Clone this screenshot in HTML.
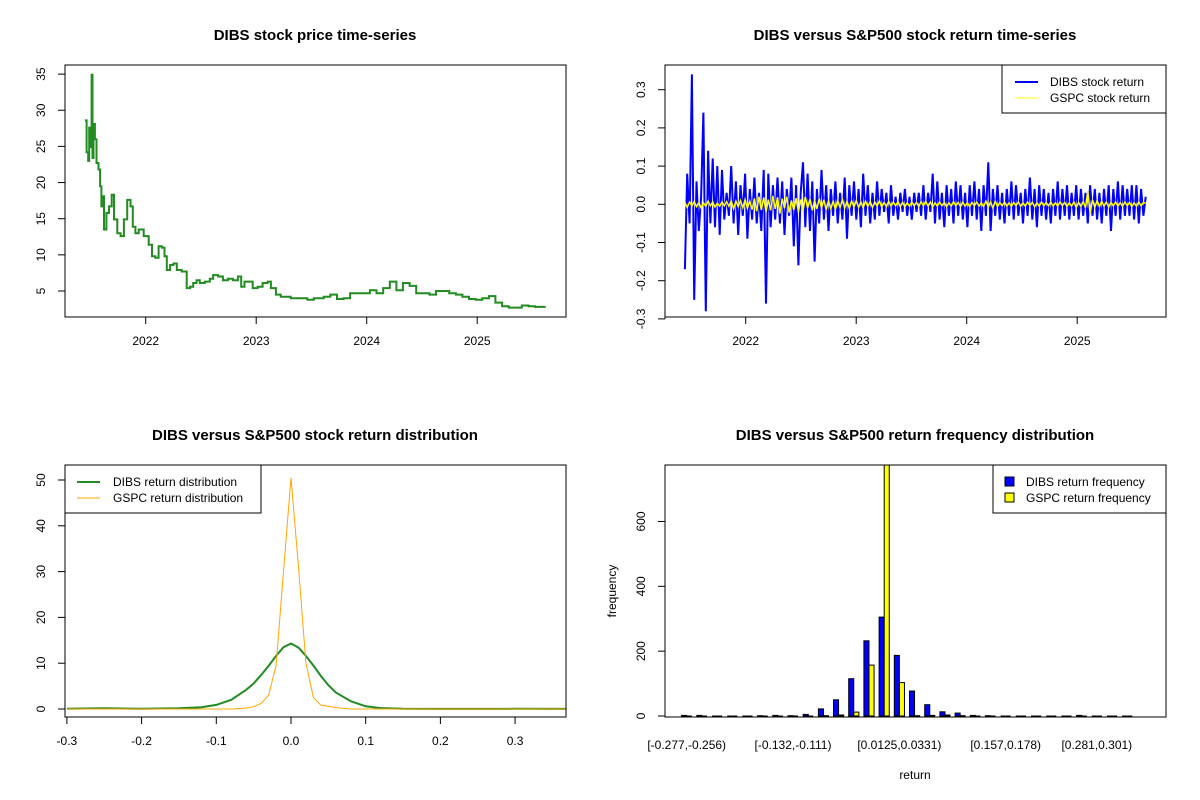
<!DOCTYPE html>
<html><head><meta charset="utf-8"><style>
body{margin:0;background:#fff}
svg{display:block;font-family:"Liberation Sans",sans-serif}
</style></head><body>
<svg id="chart" width="1200" height="800" viewBox="0 0 1200 800">
<rect width="1200" height="800" fill="#fff"/>
</svg>
<script>
// ---------- data ----------
const priceDates=[2021.450,2021.465,2021.480,2021.489,2021.501,2021.510,2021.519,2021.528,2021.540,2021.555,2021.573,2021.587,2021.599,2021.608,2021.623,2021.644,2021.668,2021.692,2021.713,2021.743,2021.773,2021.803,2021.833,2021.862,2021.883,2021.907,2021.937,2021.982,2022.027,2022.057,2022.087,2022.117,2022.146,2022.170,2022.191,2022.221,2022.251,2022.281,2022.326,2022.371,2022.401,2022.430,2022.460,2022.490,2022.535,2022.580,2022.610,2022.655,2022.699,2022.744,2022.789,2022.834,2022.864,2022.894,2022.939,2022.968,2023.013,2023.058,2023.103,2023.133,2023.178,2023.222,2023.312,2023.402,2023.462,2023.521,2023.611,2023.671,2023.731,2023.790,2023.850,2023.910,2023.970,2024.029,2024.089,2024.149,2024.209,2024.269,2024.328,2024.388,2024.448,2024.508,2024.568,2024.627,2024.687,2024.747,2024.807,2024.866,2024.926,2024.986,2025.046,2025.106,2025.165,2025.225,2025.285,2025.345,2025.404,2025.464,2025.524,2025.620];
const priceValues=[28.6,24.2,23.0,27.6,24.9,34.9,23.4,28.1,26.0,22.7,21.8,19.5,16.7,18.1,13.5,15.8,16.7,18.3,14.9,13.0,12.6,14.9,17.6,16.7,13.9,13.0,13.5,12.6,11.4,9.8,9.6,11.2,11.0,9.8,7.9,8.6,8.8,7.9,7.7,5.4,5.6,6.1,6.5,6.1,6.3,6.7,7.2,7.0,6.5,6.7,6.5,7.0,5.6,6.3,6.3,5.4,5.6,6.1,6.3,5.4,4.5,4.2,4.0,4.0,3.8,4.0,4.2,4.5,3.9,4.0,4.7,4.7,4.7,5.1,4.7,5.4,6.3,5.1,6.1,5.7,4.7,4.7,4.5,5.0,5.0,4.7,4.5,4.2,3.9,3.8,4.0,4.3,3.4,2.9,2.7,2.7,3.0,2.9,2.8,2.8];
const yearTicks=[2022,2023,2024,2025];
const priceTicks=[5,10,15,20,25,30,35];
const retStart=2021.45, retEnd=2025.62;
const dibsReturns=[-0.17,0.08,-0.05,0.34,-0.25,0.06,-0.07,0.02,0.24,-0.28,0.14,-0.05,0.12,-0.06,0.10,-0.08,0.09,-0.04,0.03,-0.03,
0.10,-0.05,0.06,-0.08,0.05,-0.03,0.08,-0.09,0.04,-0.04,0.07,-0.05,0.03,-0.07,0.09,-0.26,0.08,-0.06,0.05,-0.04,
0.07,-0.05,0.06,-0.08,0.04,-0.03,0.07,-0.11,0.05,-0.16,0.03,0.11,-0.06,0.08,-0.07,0.06,-0.15,0.04,-0.05,0.09,
-0.04,0.05,-0.07,0.04,-0.03,0.06,-0.05,0.03,-0.04,0.07,-0.09,0.05,-0.03,0.06,-0.04,0.04,-0.06,0.08,-0.03,0.05,
-0.05,0.03,-0.04,0.06,-0.03,0.04,-0.02,0.03,-0.05,0.05,-0.03,0.02,-0.04,0.03,-0.02,0.04,-0.03,0.02,-0.04,0.03,
-0.02,0.03,-0.03,0.05,-0.04,0.03,-0.02,0.08,-0.05,0.06,-0.04,0.03,-0.06,0.05,-0.03,0.04,-0.05,0.06,-0.03,0.05,
-0.04,0.03,-0.06,0.05,-0.03,0.06,-0.04,0.04,-0.07,0.05,-0.03,0.11,-0.07,0.04,-0.03,0.05,-0.04,0.03,-0.05,0.04,
-0.03,0.06,-0.04,0.05,-0.03,0.03,-0.05,0.04,-0.03,0.07,-0.04,0.04,-0.06,0.05,-0.03,0.04,-0.04,0.03,-0.05,0.04,
-0.03,0.06,-0.04,0.04,-0.03,0.05,-0.04,0.03,-0.03,0.05,-0.04,0.04,-0.03,0.03,-0.05,0.05,-0.03,0.04,-0.04,0.03,
-0.05,0.04,-0.03,0.05,-0.07,0.04,-0.03,0.06,-0.04,0.05,-0.03,0.04,-0.03,0.05,-0.04,0.05,-0.05,0.04,-0.03,0.02];
const gspcReturns=[0.005,-0.008,0.006,-0.004,0.007,-0.006,0.005,-0.009,0.004,-0.005,0.008,-0.004,0.006,-0.007,0.003,-0.005,0.006,-0.004,0.007,-0.005,
0.009,-0.012,0.008,-0.006,0.01,-0.009,0.012,-0.01,0.008,-0.014,0.015,-0.018,0.02,-0.015,0.018,-0.02,0.012,-0.016,0.022,-0.012,
0.018,-0.024,0.015,-0.01,0.02,-0.022,0.01,-0.015,0.016,-0.02,0.012,-0.018,0.02,-0.01,0.014,-0.016,0.01,-0.012,0.015,-0.01,
0.012,-0.015,0.01,-0.012,0.008,-0.014,0.011,-0.009,0.013,-0.01,0.008,-0.011,0.009,-0.007,0.01,-0.008,0.006,-0.009,0.008,-0.006,
0.007,-0.008,0.006,-0.005,0.009,-0.007,0.005,-0.006,0.008,-0.005,0.006,-0.004,0.007,-0.006,0.005,-0.007,0.004,-0.005,0.006,-0.004,
0.005,-0.006,0.007,-0.004,0.008,-0.005,0.006,-0.007,0.004,-0.005,0.006,-0.004,0.005,-0.006,0.004,-0.005,0.007,-0.004,0.005,-0.006,
0.006,-0.005,0.004,-0.006,0.005,-0.004,0.006,-0.005,0.004,-0.006,0.008,-0.007,0.006,-0.01,0.008,-0.006,0.005,-0.004,0.006,-0.005,
0.004,-0.006,0.005,-0.004,0.006,-0.005,0.004,-0.005,0.006,-0.004,0.005,-0.006,0.004,-0.005,0.006,-0.004,0.005,-0.004,0.006,-0.005,
0.004,-0.005,0.006,-0.004,0.005,-0.006,0.004,-0.005,0.006,-0.008,0.005,-0.006,0.007,-0.009,0.035,-0.025,0.012,-0.008,0.01,-0.006,
0.008,-0.005,0.006,-0.007,0.005,-0.004,0.006,-0.005,0.004,-0.005,0.006,-0.004,0.005,-0.006,0.004,-0.005,0.006,-0.004,0.005,0.003];
const retTicks=[-0.3,-0.2,-0.1,0.0,0.1,0.2,0.3];
const densX=[-0.30,-0.25,-0.2,-0.15,-0.12,-0.1,-0.08,-0.06,-0.05,-0.04,-0.03,-0.02,-0.01,0,0.01,0.02,0.03,0.04,0.05,0.06,0.08,0.1,0.12,0.15,0.2,0.25,0.3,0.368];
const dibsDens=[0.05,0.15,0.05,0.15,0.4,0.9,2.0,4.2,5.6,7.4,9.4,11.6,13.5,14.3,13.4,11.6,9.5,7.2,5.2,3.6,1.7,0.6,0.2,0.05,0.03,0.02,0.05,0.02];
const gspcDens=[0,0,0,0,0,0,0,0.2,0.5,1.2,3.0,9.5,30,50.5,31,10,2.5,0.8,0.6,0.3,0,0,0,0,0,0,0,0];
const densXTicks=[-0.3,-0.2,-0.1,0.0,0.1,0.2,0.3];
const densYTicks=[0,10,20,30,40,50];
const dibsCounts=[2,2,0,0,0,1,2,1,5,22,50,115,232,305,187,77,35,13,9,2,1,0,0,0,0,0,2,0,0,0];
const gspcCounts=[0,0,0,0,0,0,0,0,0,1,3,12,157,900,103,1,2,3,1,0,0,0,0,0,0,0,0,0,0,0];
const binLabelIdx=[0,7,14,21,27];
const binLabels=["[-0.277,-0.256)","[-0.132,-0.111)","[0.0125,0.0331)","[0.157,0.178)","[0.281,0.301)"];
const freqTicks=[0,200,400,600];

// ---------- helpers ----------
const NS="http://www.w3.org/2000/svg";
const svg=document.getElementById('chart');
function mk(tag,attrs,parent,text){const e=document.createElementNS(NS,tag);for(const k in attrs)e.setAttribute(k,attrs[k]);if(text!==undefined)e.textContent=text;(parent||svg).appendChild(e);return e;}
function group(name){const g=mk('g',{});return g;}
function box(g,x0,y0,x1,y1){const r=mk('rect',{x:x0,y:y0,width:x1-x0,height:y1-y0,fill:'none',stroke:'#000','stroke-width':1},g);}
function title(g,x,y,t){const e=mk('text',{x:x,y:y,'text-anchor':'middle','font-size':15,'font-weight':'bold'},g,t);}
function yAxis(g,x,ticks,sy,fmt){const a=mk('g',{},g);
 mk('line',{x1:x,x2:x,y1:sy(ticks[0]),y2:sy(ticks[ticks.length-1]),stroke:'#000'},a);
 ticks.forEach(t=>{const y=sy(t);mk('line',{x1:x-7,x2:x,y1:y,y2:y,stroke:'#000'},a);
 const l=mk('text',{x:x-20,y:y,'font-size':12,'text-anchor':'middle',transform:`rotate(-90 ${x-20} ${y})`},a,fmt(t));});}
function xAxis(g,y,ticks,sx,fmt){const a=mk('g',{},g);
 mk('line',{x1:sx(ticks[0]),x2:sx(ticks[ticks.length-1]),y1:y,y2:y,stroke:'#000'},a);
 ticks.forEach(t=>{const x=sx(t);mk('line',{x1:x,x2:x,y1:y,y2:y+7,stroke:'#000'},a);
 const l=mk('text',{x:x,y:y+28,'font-size':12,'text-anchor':'middle'},a,fmt(t));});}
function clip(id,x0,y0,x1,y1){const c=mk('clipPath',{id:id});mk('rect',{x:x0,y:y0,width:x1-x0,height:y1-y0},c);}
function stepPts(xs,ys){const out=[];for(let i=0;i<xs.length;i++){if(i>0)out.push(xs[i].toFixed(1)+','+ys[i-1].toFixed(1));out.push(xs[i].toFixed(1)+','+ys[i].toFixed(1));}return out.join(' ');}
function linePts(xs,ys){return xs.map((x,i)=>x.toFixed(1)+','+ys[i].toFixed(1)).join(' ');}

// ---------- panel 1 ----------
{const g=group('price-panel');
 const sx=t=>145.7+(t-2022)*110.5, sy=v=>291-(v-5)*7.23;
 title(g,315,40,'DIBS stock price time-series');
 const pts=stepPts(priceDates.map(sx),priceValues.map(sy));
 const p=mk('polyline',{points:pts,fill:'none',stroke:'#228B22','stroke-width':2},g);
 
 box(g,65,65,566,317);
 yAxis(g,65,priceTicks,sy,t=>String(t));
 xAxis(g,317,yearTicks,sx,t=>String(t));}

// ---------- panel 2 ----------
{const g=group('return-timeseries-panel');
 const sx=t=>745.7+(t-2022)*110.5, sy=v=>204.3-v*382;
 title(g,915,40,'DIBS versus S&P500 stock return time-series');
 clip('c2',665,65,1166,317);
 const n1=dibsReturns.length, n2=gspcReturns.length;
 const x1=dibsReturns.map((v,i)=>sx(retStart+(retEnd-retStart)*i/(n1-1)));
 const l1=mk('polyline',{points:linePts(x1,dibsReturns.map(sy)),fill:'none',stroke:'#0000FF','stroke-width':2,'clip-path':'url(#c2)'},g);
 
 const x2=gspcReturns.map((v,i)=>sx(retStart+(retEnd-retStart)*i/(n2-1)));
 const l2=mk('polyline',{points:linePts(x2,gspcReturns.map(sy)),fill:'none',stroke:'#FFFF00','stroke-width':1.5,'clip-path':'url(#c2)'},g);
 
 box(g,665,65,1166,317);
 yAxis(g,665,retTicks,sy,t=>t.toFixed(1));
 xAxis(g,317,yearTicks,sx,t=>String(t));
 const lg=mk('g',{},g);
 mk('rect',{x:1002,y:65,width:164,height:48,fill:'#fff',stroke:'#000'},lg);
 mk('line',{x1:1015,x2:1038,y1:82,y2:82,stroke:'#0000FF','stroke-width':2},lg);
 mk('line',{x1:1015,x2:1038,y1:98,y2:98,stroke:'#FFFF00','stroke-width':1},lg);
 mk('text',{x:1050,y:86,'font-size':12},lg,'DIBS stock return');
 mk('text',{x:1050,y:102,'font-size':12},lg,'GSPC stock return');}

// ---------- panel 3 ----------
{const g=group('density-panel');
 const sx=v=>291+v*747, sy=v=>709-v*4.58;
 title(g,315,440,'DIBS versus S&P500 stock return distribution');
 const mkLine=(arr,col,w,name)=>{const p=mk('polyline',{points:densX.map((x,i)=>sx(x).toFixed(1)+','+sy(arr[i]).toFixed(1)).join(' '),fill:'none',stroke:col,'stroke-width':w},g);};
 mkLine(dibsDens,'#228B22',2,'dibs-density-line');
 mkLine(gspcDens,'#FFA500',1,'gspc-density-line');
 box(g,65,465,566,717);
 yAxis(g,65,densYTicks,sy,t=>String(t));
 xAxis(g,717,densXTicks,sx,t=>t.toFixed(1));
 const lg=mk('g',{},g);
 mk('rect',{x:65,y:465,width:196,height:48,fill:'#fff',stroke:'#000'},lg);
 mk('line',{x1:77,x2:100,y1:482,y2:482,stroke:'#228B22','stroke-width':2},lg);
 mk('line',{x1:77,x2:100,y1:498,y2:498,stroke:'#FFA500','stroke-width':1},lg);
 mk('text',{x:113,y:486,'font-size':12},lg,'DIBS return distribution');
 mk('text',{x:113,y:502,'font-size':12},lg,'GSPC return distribution');}

// ---------- panel 4 ----------
{const g=group('histogram-panel');
 const sy=v=>716-v*0.3242, gx=i=>686.7+i*15.19, bw=5.06;
 title(g,915,440,'DIBS versus S&P500 return frequency distribution');
 clip('c4',665,465,1166,717);
 const bars=mk('g',{'clip-path':'url(#c4)'},g);
 const drawBar=(i,v,off,col,name)=>{const x=gx(i)+off;
  if(v>0){const r=mk('rect',{x:x.toFixed(1),y:sy(v).toFixed(1),width:bw,height:(sy(0)-sy(v)).toFixed(1),fill:col,stroke:'#000','stroke-width':1},bars);}
  else{const l=mk('line',{x1:x,x2:x+bw,y1:sy(0),y2:sy(0),stroke:'#000'},bars);}};
 dibsCounts.forEach((v,i)=>drawBar(i,v,-bw,'#0000FF','dibs-bar'));
 gspcCounts.forEach((v,i)=>drawBar(i,v,0,'#FFFF00','gspc-bar'));
 box(g,665,465,1166,717);
 yAxis(g,665,freqTicks,sy,t=>String(t));
 binLabelIdx.forEach((bi,k)=>{const l=mk('text',{x:gx(bi),y:749,'font-size':12,'text-anchor':'middle'},g,binLabels[k]);});
 const xt=mk('text',{x:915,y:779,'font-size':12,'text-anchor':'middle'},g,'return');
 const yt=mk('text',{x:616,y:591,'font-size':12,'text-anchor':'middle',transform:'rotate(-90 616 591)'},g,'frequency');
 const lg=mk('g',{},g);
 mk('rect',{x:993,y:465,width:173,height:48,fill:'#fff',stroke:'#000'},lg);
 mk('rect',{x:1005,y:477,width:9,height:9,fill:'#0000FF',stroke:'#000'},lg);
 mk('rect',{x:1005,y:493,width:9,height:9,fill:'#FFFF00',stroke:'#000'},lg);
 mk('text',{x:1026,y:486,'font-size':12},lg,'DIBS return frequency');
 mk('text',{x:1026,y:502,'font-size':12},lg,'GSPC return frequency');}
</script>
</body></html>
